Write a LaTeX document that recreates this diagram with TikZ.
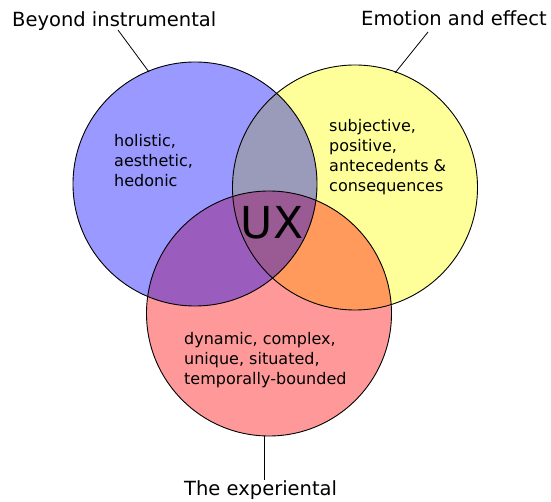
\documentclass[tikz,border=0pt]{standalone}
\usepackage{fontspec}
\setmainfont{DejaVu Sans}
\definecolor{cblue}{HTML}{9999FF}
\definecolor{cyellow}{HTML}{FFFF99}
\definecolor{cred}{HTML}{FF9999}
\definecolor{cby}{HTML}{9A9ABB}
\definecolor{cbr}{HTML}{9A5CBD}
\definecolor{cyr}{HTML}{FF9A5C}
\definecolor{call}{HTML}{9A5A94}
\begin{document}
\begin{tikzpicture}[x=1pt,y=-1pt,
  outline/.style={draw=black,line width=0.9pt},
  leader/.style={draw=black,line width=0.8pt},
  title/.style={font=\fontsize{19.5}{23}\selectfont,inner sep=0pt,anchor=base west},
  body/.style={font=\fontsize{16}{20}\selectfont,inner sep=0pt,anchor=north west,align=left},
  big/.style={font=\fontsize{44}{50}\selectfont,inner sep=0pt}]
\useasboundingbox (0,0) rectangle (551,502);
\def\circB{(195,184) circle[radius=122]}
\def\circY{(355,187.5) circle[radius=122.5]}
\def\circR{(269,313.5) circle[radius=122.5]}
% base fills
\fill[cblue] \circB;
\fill[cyellow] \circY;
\fill[cred] \circR;
% pairwise overlaps
\begin{scope}\clip \circB; \fill[cby] \circY; \end{scope}
\begin{scope}\clip \circB; \fill[cbr] \circR; \end{scope}
\begin{scope}\clip \circY; \fill[cyr] \circR; \end{scope}
\begin{scope}\clip \circB; \clip \circY; \fill[call] \circR; \end{scope}
% outlines
\draw[outline] \circB;
\draw[outline] \circY;
\draw[outline] \circR;
% texts
\node[body] (tB) at (114,133.8) {holistic,\\aesthetic,\\hedonic};
\node[body] (tY) at (329,118.8) {subjective,\\positive,\\antecedents \&\\consequences};
\node[body] (tR) at (184,332) {dynamic, complex,\\unique, situated,\\temporally-bounded};
\node[big] (ux) at (272,223) {UX};
% titles
\node[title] (lB) at (12,27) {Beyond instrumental};
\node[title] (lY) at (361,26) {Emotion and effect};
\node[title] (lR) at (184,495) {The experiental};
% leader lines
\coordinate (bA) at (118,30);
\coordinate (bB) at (149,72);
\coordinate (yA) at (428,32);
\coordinate (yB) at (395,73);
\coordinate (rA) at (264,436);
\coordinate (rB) at (264,480);
\draw[leader] (bA) -- (bB);
\draw[leader] (yA) -- (yB);
\draw[leader] (rA) -- (rB);
\end{tikzpicture}
\end{document}
